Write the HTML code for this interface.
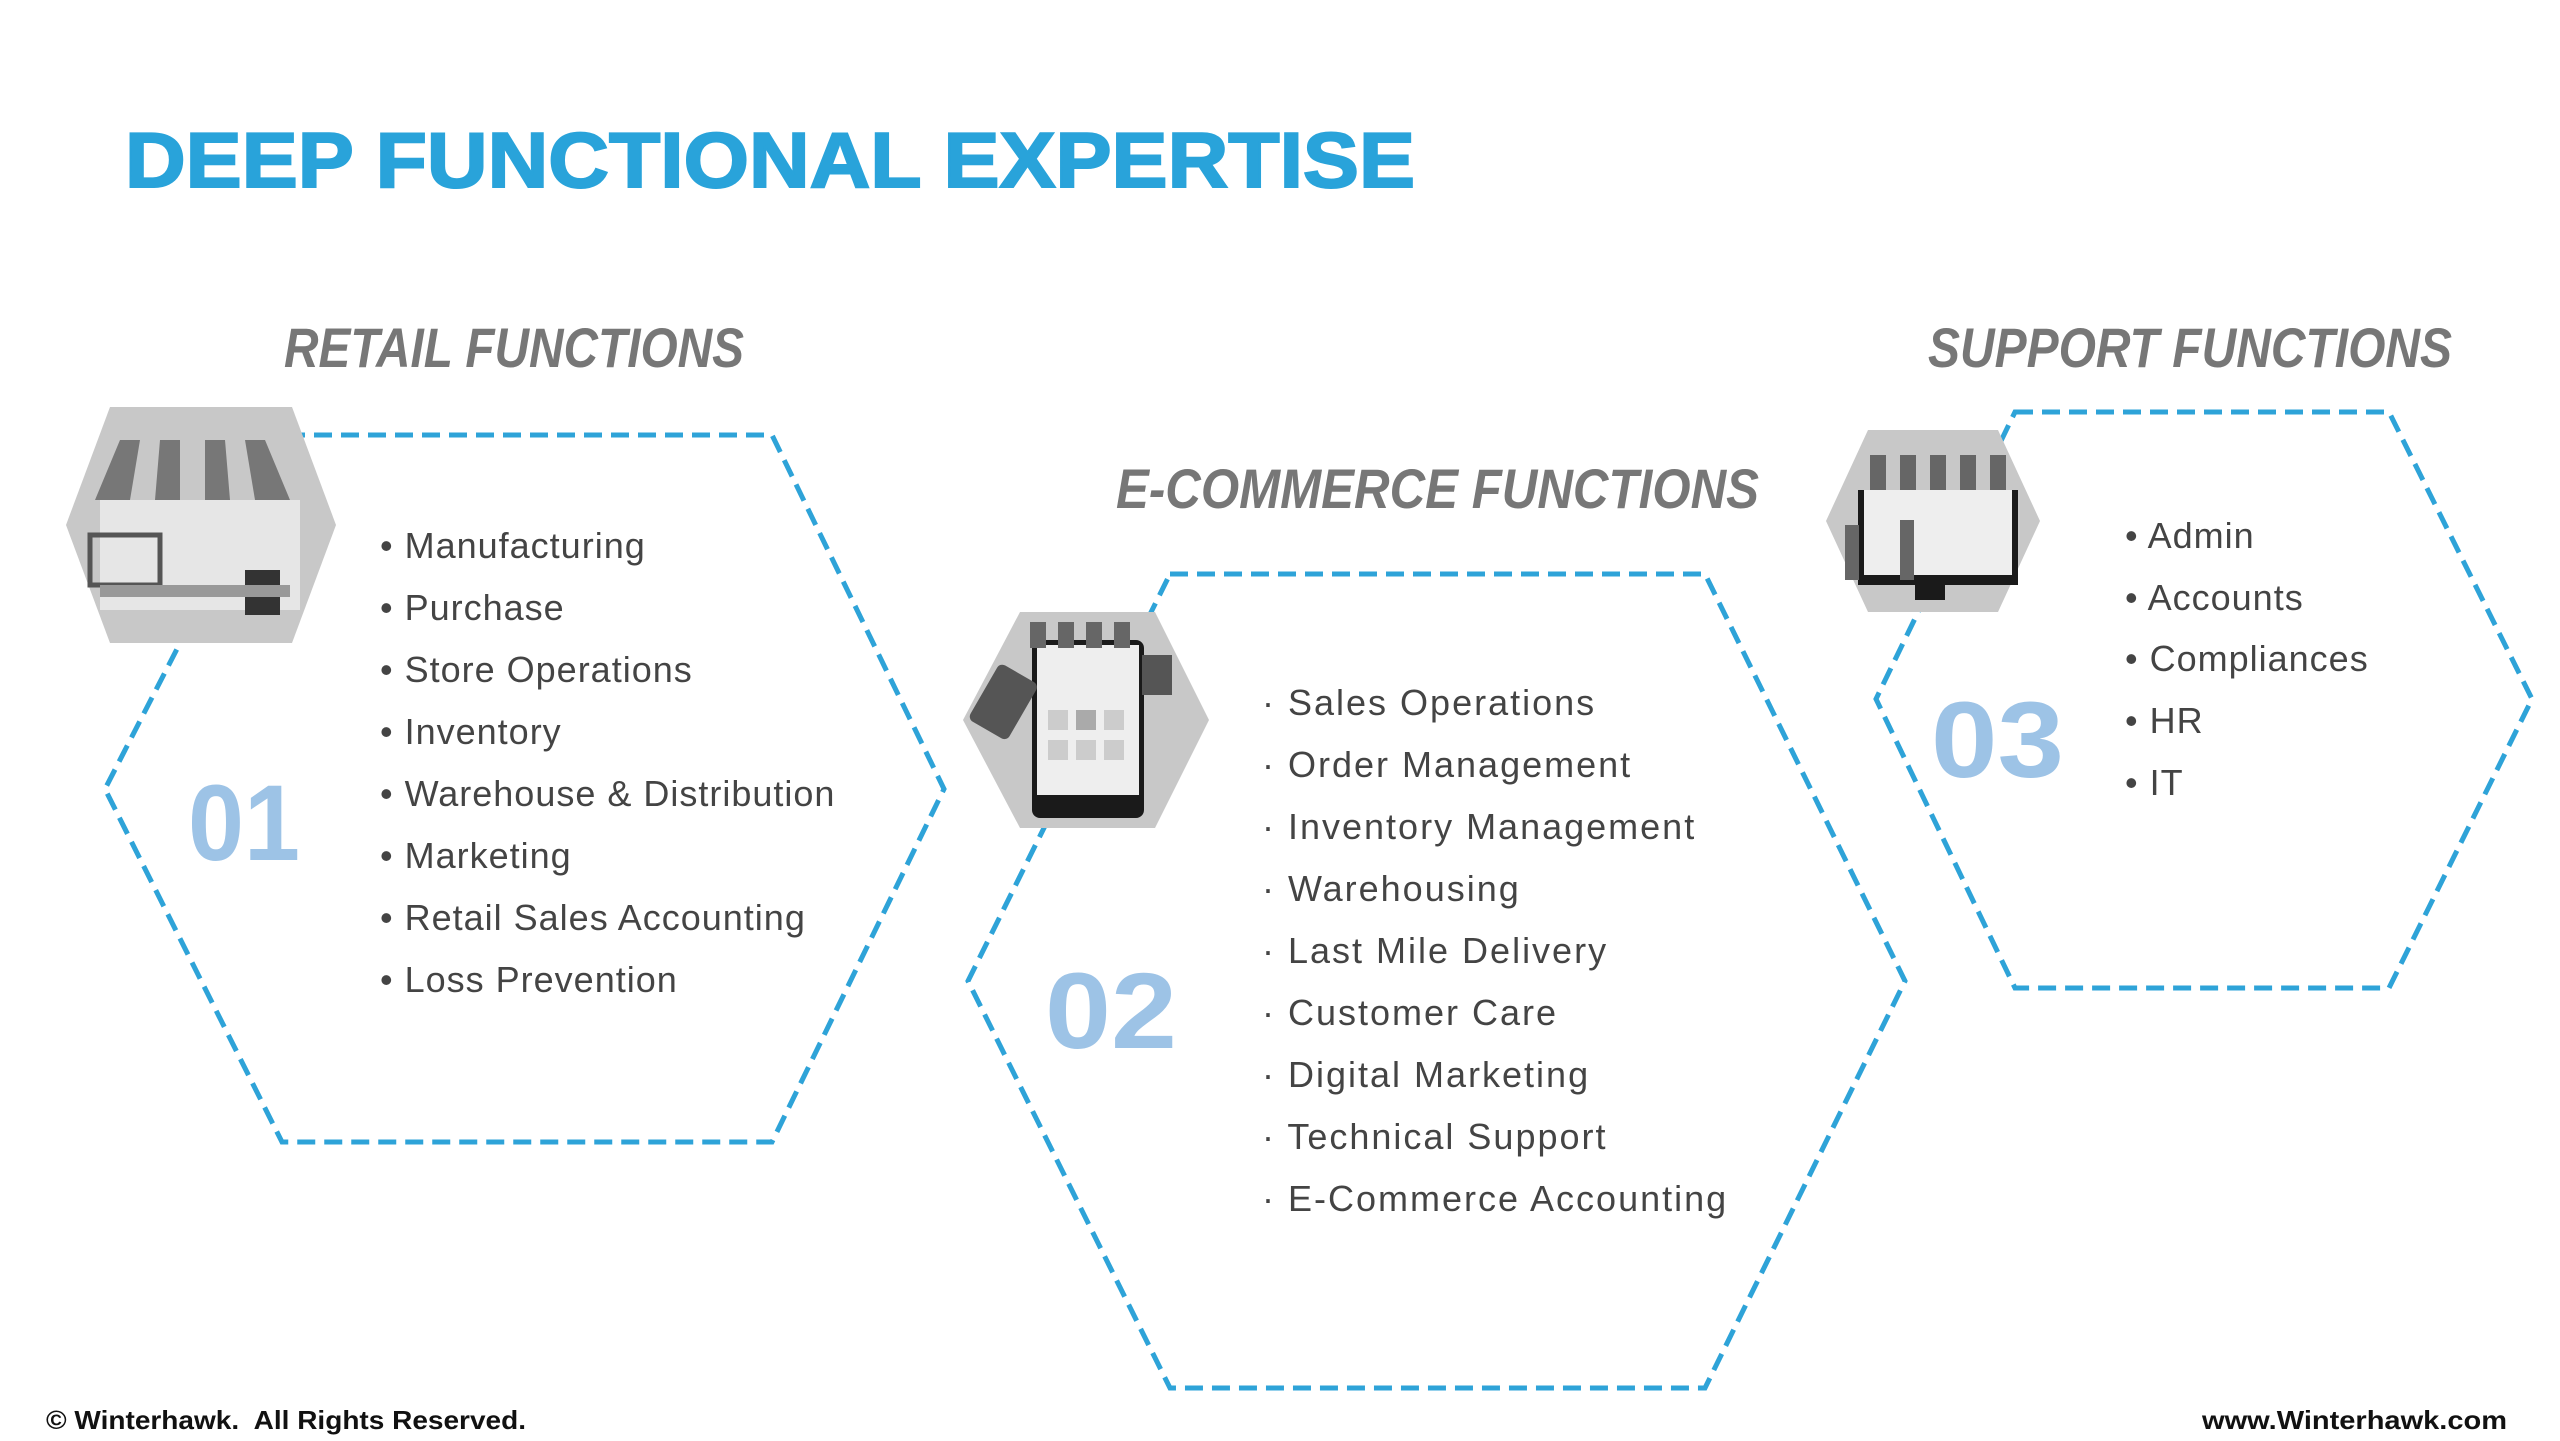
<!DOCTYPE html>
<html><head><meta charset="utf-8"><style>
html,body{margin:0;padding:0;background:#fff;}
svg{display:block}
</style></head><body>
<svg width="2560" height="1441" viewBox="0 0 2560 1441" xmlns="http://www.w3.org/2000/svg" font-family="Liberation Sans, sans-serif">
<rect width="2560" height="1441" fill="#fff"/>
<text x="125" y="187" font-size="78" font-weight="bold" fill="#29a3da" stroke="#29a3da" stroke-width="2" textLength="1290" lengthAdjust="spacingAndGlyphs">DEEP FUNCTIONAL EXPERTISE</text>

<g font-size="56" font-weight="bold" font-style="italic" fill="#777">
<text x="284" y="367" textLength="460" lengthAdjust="spacingAndGlyphs">RETAIL FUNCTIONS</text>
<text x="1116" y="508" textLength="643" lengthAdjust="spacingAndGlyphs">E-COMMERCE FUNCTIONS</text>
<text x="1928" y="367" textLength="524" lengthAdjust="spacingAndGlyphs">SUPPORT FUNCTIONS</text>
</g>

<g fill="none" stroke="#2ea3d8" stroke-width="5" stroke-dasharray="18 9">
<polygon points="287,435 772,435 944,789 772,1142 282,1142 105,789"/>
<polygon points="1170,574 1705,574 1905,981 1705,1388 1170,1388 968,981"/>
<polygon points="2015,412 2389,412 2532,699 2389,988 2015,988 1876,699"/>
</g>

<!-- icons -->
<g>
<polygon points="110,407 292,407 336,525 292,643 110,643 66,525" fill="#c8c8c8"/>
<rect x="100" y="500" width="200" height="110" fill="#e6e6e6"/>
<g fill="#777"><path d="M95,500 L120,440 L140,440 L130,500Z"/><path d="M155,500 L160,440 L180,440 L180,500Z"/><path d="M205,500 L205,440 L225,440 L230,500Z"/><path d="M255,500 L245,440 L265,440 L290,500Z"/></g>
<rect x="90" y="535" width="70" height="50" fill="none" stroke="#555" stroke-width="5"/>
<rect x="245" y="570" width="35" height="45" fill="#333"/>
<rect x="100" y="585" width="190" height="12" fill="#999"/>
</g>
<g>
<polygon points="1020,612 1155,612 1209,720 1155,828 1020,828 963,720" fill="#c8c8c8"/>
<rect x="1032" y="640" width="112" height="178" rx="8" fill="#1a1a1a"/>
<rect x="1037" y="645" width="102" height="150" fill="#eee"/>
<g fill="#666"><rect x="1030" y="622" width="16" height="26"/><rect x="1058" y="622" width="16" height="26"/><rect x="1086" y="622" width="16" height="26"/><rect x="1114" y="622" width="16" height="26"/></g>
<g fill="#ccc"><rect x="1048" y="710" width="20" height="20"/><rect x="1076" y="710" width="20" height="20" fill="#aaa"/><rect x="1104" y="710" width="20" height="20"/><rect x="1048" y="740" width="20" height="20"/><rect x="1076" y="740" width="20" height="20"/><rect x="1104" y="740" width="20" height="20"/></g>
<rect x="982" y="670" width="45" height="65" rx="6" fill="#555" transform="rotate(30 1005 700)"/>
<rect x="1142" y="655" width="30" height="40" fill="#555"/>
</g>
<g>
<polygon points="1868,430 1998,430 2040,521 1998,612 1868,612 1826,521" fill="#c8c8c8"/>
<rect x="1858" y="490" width="160" height="95" fill="#1a1a1a"/>
<rect x="1864" y="490" width="148" height="85" fill="#eee"/>
<rect x="1915" y="585" width="30" height="15" fill="#1a1a1a"/>
<g fill="#666"><rect x="1870" y="455" width="16" height="35"/><rect x="1900" y="455" width="16" height="35"/><rect x="1930" y="455" width="16" height="35"/><rect x="1960" y="455" width="16" height="35"/><rect x="1990" y="455" width="16" height="35"/></g>
<rect x="1845" y="525" width="14" height="55" fill="#666"/><rect x="1900" y="520" width="14" height="60" fill="#666"/>
</g>

<g font-size="36" fill="#444" letter-spacing="1">
<text x="380" y="558">• Manufacturing</text>
<text x="380" y="620">• Purchase</text>
<text x="380" y="682">• Store Operations</text>
<text x="380" y="744">• Inventory</text>
<text x="380" y="806">• Warehouse &amp; Distribution</text>
<text x="380" y="868">• Marketing</text>
<text x="380" y="930">• Retail Sales Accounting</text>
<text x="380" y="992">• Loss Prevention</text>
</g>
<g font-size="36" fill="#444" letter-spacing="2">
<text x="1262" y="715">· Sales Operations</text>
<text x="1262" y="777">· Order Management</text>
<text x="1262" y="839">· Inventory Management</text>
<text x="1262" y="901">· Warehousing</text>
<text x="1262" y="963">· Last Mile Delivery</text>
<text x="1262" y="1025">· Customer Care</text>
<text x="1262" y="1087">· Digital Marketing</text>
<text x="1262" y="1149">· Technical Support</text>
<text x="1262" y="1211">· E-Commerce Accounting</text>
</g>
<g font-size="36" fill="#444" letter-spacing="1">
<text x="2125" y="548">• Admin</text>
<text x="2125" y="610">• Accounts</text>
<text x="2125" y="671">• Compliances</text>
<text x="2125" y="733">• HR</text>
<text x="2125" y="795">• IT</text>
</g>

<g font-size="108" font-weight="bold" fill="#9dc3e6">
<text x="188" y="860" textLength="112" lengthAdjust="spacingAndGlyphs">01</text>
<text x="1045" y="1048" textLength="132" lengthAdjust="spacingAndGlyphs">02</text>
<text x="1931" y="777" textLength="133" lengthAdjust="spacingAndGlyphs">03</text>
</g>

<g font-size="26" font-weight="bold" fill="#111">
<text x="46" y="1429" textLength="480" lengthAdjust="spacingAndGlyphs" xml:space="preserve">© Winterhawk.  All Rights Reserved.</text>
<text x="2202" y="1429" textLength="305" lengthAdjust="spacingAndGlyphs">www.Winterhawk.com</text>
</g>
</svg>
</body></html>
